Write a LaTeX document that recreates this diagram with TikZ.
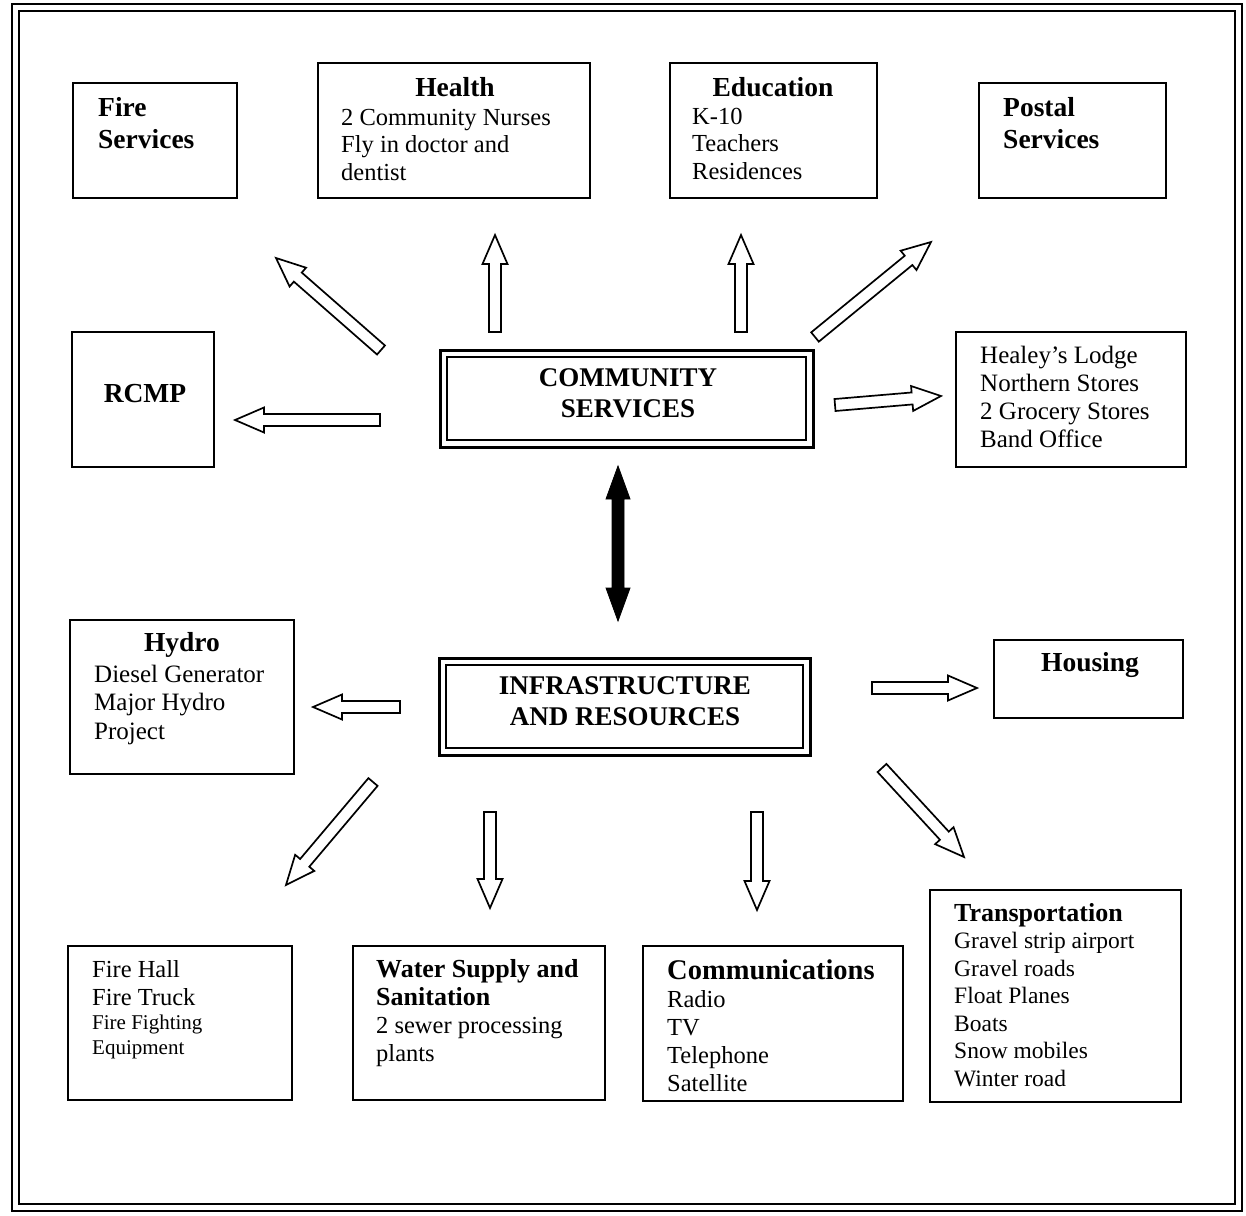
\documentclass[tikz,border=0pt]{standalone}
\usepackage{fontspec}
\setmainfont{Liberation Serif}
\usetikzlibrary{calc}

% strut that fixes the height of a first line
\newcommand\up{\rule{0pt}{20pt}}
% bold heading line inside a list
\newcommand\hd[1]{{\fontsize{26}{27.5}\selectfont\bfseries #1}}

\tikzset{
  box/.style={draw, line width=1.6pt, rectangle, inner sep=0pt},
  dblbox/.style={draw, line width=3pt, rectangle, inner sep=0pt},
  inbox/.style={draw, line width=1.4pt, rectangle, inner sep=0pt},
  txt/.style={anchor=north west, inner sep=0pt, align=left,
    font=\fontsize{24.5}{27.5}\selectfont},
  ttl/.style={inner sep=0pt, font=\fontsize{27.5}{32}\selectfont\bfseries},
  ttlblock/.style={anchor=north west, inner sep=0pt, align=left,
    font=\fontsize{27.5}{32}\selectfont\bfseries},
  caps/.style={inner sep=0pt, align=center,
    font=\fontsize{27}{31}\selectfont\bfseries},
  hollow/.style={draw, line width=1.7pt, fill=white, line join=miter},
  solid arrow/.style={fill=black, draw=black, line width=0.8pt},
}

% hollow block arrow from #2 (tail) to #3 (tip)
\newcommand\blockarrow[3][hollow]{%
  \path ($(#3)!29pt!(#2)$) coordinate (ah);
  \path[#1] ($(#2)!6pt!90:(#3)$) -- ($(ah)!6pt!90:(#3)$)
    -- ($(ah)!12.5pt!90:(#3)$) -- (#3) -- ($(ah)!12.5pt!-90:(#3)$)
    -- ($(ah)!6pt!-90:(#3)$) -- ($(#2)!6pt!-90:(#3)$) -- cycle;
}

\begin{document}
\begin{tikzpicture}[x=1pt, y=-1pt]
\useasboundingbox (0,0) rectangle (1246,1215);

% outer frame
\draw[line width=2.6pt] (12,4) rectangle (1242,1211);
\draw[line width=1.4pt] (19,11) rectangle (1235,1204);

% ---- community services ring ----
\node[box, minimum width=164pt, minimum height=115pt] (fire) at (155,140.5) {};
\node[ttlblock] (fire-t) at (98,96) {\up Fire\\Services};

\node[box, minimum width=272pt, minimum height=135pt] (health) at (454,130.5) {};
\node[ttl] (health-h) at (455,87) {Health};
\node[txt] (health-t) at (341,105) {\up 2 Community Nurses\\Fly in doctor and\\dentist};

\node[box, minimum width=207pt, minimum height=135pt] (edu) at (773.5,130.5) {};
\node[ttl] (edu-h) at (773,87) {Education};
\node[txt] (edu-t) at (692,104) {\up K-10\\Teachers\\Residences};

\node[box, minimum width=187pt, minimum height=115pt] (postal) at (1072.5,140.5) {};
\node[ttlblock] (postal-t) at (1003,96) {\up Postal\\Services};

\node[box, minimum width=142pt, minimum height=135pt] (rcmp) at (143,399.5) {};
\node[ttl] (rcmp-t) at (145,394) {RCMP};

\node[dblbox, minimum width=373pt, minimum height=97pt] (cs) at (626.5,398.5) {};
\node[inbox, minimum width=359pt, minimum height=83pt] (cs-in) at (626.5,398.5) {};
\node[caps] (cs-t) at (628,393.5) {COMMUNITY\\SERVICES};

\node[box, minimum width=230pt, minimum height=135pt] (shops) at (1071,399.5) {};
\node[txt, font=\fontsize{25}{28}\selectfont] (shops-t) at (980,343)
  {\up Healey’s Lodge\\Northern Stores\\2 Grocery Stores\\Band Office};

% ---- infrastructure ring ----
\node[box, minimum width=224pt, minimum height=154pt] (hydro) at (182,697) {};
\node[ttl] (hydro-h) at (182,645) {Hydro};
\node[txt, font=\fontsize{25}{28.5}\selectfont] (hydro-t) at (94,662)
  {\up Diesel Generator\\Major Hydro\\Project};

\node[dblbox, minimum width=371pt, minimum height=97pt] (infra) at (624.5,706.5) {};
\node[inbox, minimum width=357pt, minimum height=83pt] (infra-in) at (624.5,706.5) {};
\node[caps] (infra-t) at (625,701.5) {INFRASTRUCTURE\\AND RESOURCES};

\node[box, minimum width=189pt, minimum height=78pt] (housing) at (1088.5,679) {};
\node[ttl] (housing-t) at (1090,665) {Housing};

\node[box, minimum width=224pt, minimum height=154pt] (firehall) at (180,1023) {};
\node[txt, font=\fontsize{24.5}{28}\selectfont] (firehall-t) at (92,957)
  {\up Fire Hall\\Fire Truck};
\node[txt, font=\fontsize{21}{25}\selectfont] (firehall-u) at (92,1009.5)
  {\up Fire Fighting\\Equipment};

\node[box, minimum width=252pt, minimum height=154pt] (water) at (479,1023) {};
\node[txt, font=\fontsize{24.5}{28}\selectfont] (water-t) at (376,957)
  {\up\hd{Water Supply and}\\\hd{Sanitation}\\2 sewer processing\\plants};

\node[box, minimum width=260pt, minimum height=155pt] (comm) at (773,1023.5) {};
\node[txt, font=\fontsize{24.5}{28}\selectfont] (comm-t) at (667,959)
  {\up{\fontsize{28.5}{28}\selectfont\bfseries Communications}\\Radio\\TV\\Telephone\\Satellite};

\node[box, minimum width=251pt, minimum height=212pt] (transport) at (1055.5,996) {};
\node[txt, font=\fontsize{23.5}{27.5}\selectfont] (transport-t) at (954,901)
  {\up\hd{Transportation}\\Gravel strip airport\\Gravel roads\\Float Planes\\Boats\\Snow mobiles\\Winter road};

% ---- arrow ends ----
\coordinate (a1s) at (381,350);  \coordinate (a1e) at (276,258);
\coordinate (a2s) at (495,332);  \coordinate (a2e) at (495,235);
\coordinate (a3s) at (741,332);  \coordinate (a3e) at (741,235);
\coordinate (a4s) at (815,337);  \coordinate (a4e) at (931,242);
\coordinate (a5s) at (380,420);  \coordinate (a5e) at (235,420);
\coordinate (a6s) at (835,405);  \coordinate (a6e) at (941,396);

\coordinate (b1s) at (400,707);  \coordinate (b1e) at (313,707);
\coordinate (b2s) at (872,688);  \coordinate (b2e) at (977,688);
\coordinate (b3s) at (373,782);  \coordinate (b3e) at (286,885);
\coordinate (b4s) at (490,812);  \coordinate (b4e) at (490,908);
\coordinate (b5s) at (757,812);  \coordinate (b5e) at (757,910);
\coordinate (b6s) at (882,768);  \coordinate (b6e) at (964,857);

\blockarrow{a1s}{a1e}
\blockarrow{a2s}{a2e}
\blockarrow{a3s}{a3e}
\blockarrow{a4s}{a4e}
\blockarrow{a5s}{a5e}
\blockarrow{a6s}{a6e}
\blockarrow{b1s}{b1e}
\blockarrow{b2s}{b2e}
\blockarrow{b3s}{b3e}
\blockarrow{b4s}{b4e}
\blockarrow{b5s}{b5e}
\blockarrow{b6s}{b6e}

% two-headed link between the two centres
\coordinate (dt) at (618,466);
\coordinate (db) at (618,621);
\path ($(dt)!33pt!(db)$) coordinate (dh1) ($(db)!33pt!(dt)$) coordinate (dh2);
\path[solid arrow] (dt) -- ($(dh1)!12pt!90:(db)$) -- ($(dh1)!6pt!90:(db)$)
  -- ($(dh2)!6pt!-90:(dt)$) -- ($(dh2)!12pt!-90:(dt)$) -- (db)
  -- ($(dh2)!12pt!90:(dt)$) -- ($(dh2)!6pt!90:(dt)$)
  -- ($(dh1)!6pt!-90:(db)$) -- ($(dh1)!12pt!-90:(db)$) -- cycle;
\end{tikzpicture}
\end{document}
